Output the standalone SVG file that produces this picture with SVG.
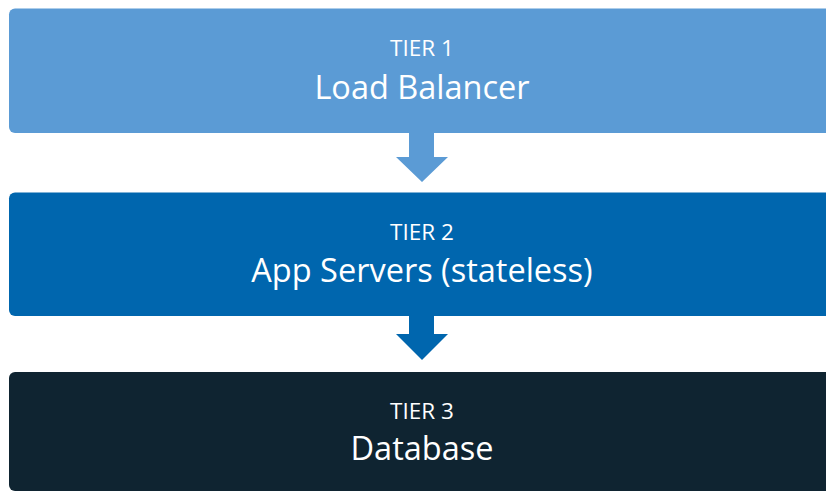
<svg xmlns="http://www.w3.org/2000/svg" width="826" height="494" viewBox="0 0 826 494">
<style>
.tier{font-family:"Open Sans","Liberation Sans",sans-serif;font-size:22.5px;fill:#ffffff;text-anchor:middle}
.name{font-family:"Open Sans","Liberation Sans",sans-serif;font-size:32.5px;fill:#ffffff;text-anchor:middle}
</style>
<rect width="826" height="494" fill="#ffffff"/>
<g id="connectors">
<polygon points="409,132 434,132 434,157 448,157 422,182 396,157 409,157" fill="#5b9bd5"/>
<polygon points="409,315 434,315 434,334 448,334 422,360 396,334 409,334" fill="#0066ae"/>
</g>
<g id="tier1">
<rect x="9" y="8.5" width="840" height="124.5" rx="6" fill="#5b9bd5"/>
<text class="tier" x="422" y="56">TIER 1</text>
<text class="name" x="422" y="98.5">Load Balancer</text>
</g>
<g id="tier2">
<rect x="9" y="192.5" width="840" height="123.5" rx="6" fill="#0066ae"/>
<text class="tier" x="422" y="240">TIER 2</text>
<text class="name" x="422" y="281.5">App Servers (stateless)</text>
</g>
<g id="tier3">
<rect x="9" y="372" width="840" height="119" rx="6" fill="#0f2431"/>
<text class="tier" x="422" y="419">TIER 3</text>
<text class="name" x="422" y="460">Database</text>
</g>
</svg>
